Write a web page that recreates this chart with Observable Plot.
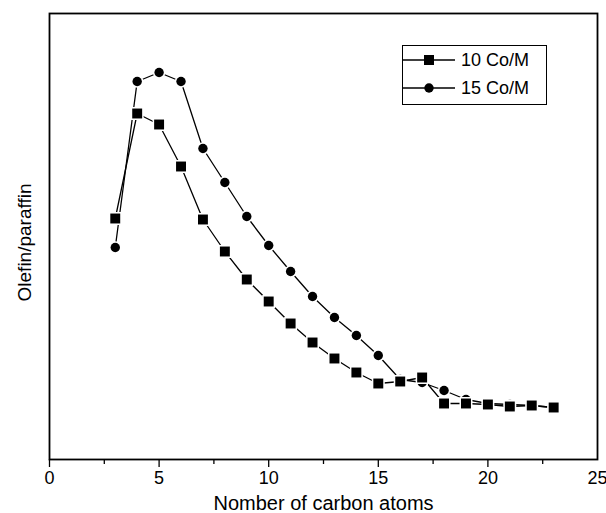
<!DOCTYPE html>
<html>
<head>
<meta charset="utf-8">
<script src="https://cdn.jsdelivr.net/npm/d3@7"></script>
<script src="https://cdn.jsdelivr.net/npm/@observablehq/plot@0.6"></script>
<style>
  html, body { margin: 0; padding: 0; background: #fff; }
  #wrap { position: relative; width: 606px; height: 513px; font-family: "Liberation Sans", Arial, sans-serif; }
  #legend { position: absolute; left: 402px; top: 45px; width: 143px; height: 58px; border: 1.5px solid #000; background: #fff; }
</style>
</head>
<body>
<div id="wrap"></div>
<script>
// Carbon number
const carbon = [3,4,5,6,7,8,9,10,11,12,13,14,15,16,17,18,19,20,21,22,23];
// Olefin/paraffin ratio (arbitrary units)
const co10 = [2.41,3.46,3.35,2.93,2.40,2.08,1.80,1.58,1.36,1.17,1.01,0.87,0.76,0.78,0.82,0.56,0.56,0.55,0.53,0.54,0.52];
const co15 = [2.12,3.78,3.87,3.78,3.11,2.77,2.43,2.14,1.88,1.63,1.42,1.24,1.04,0.80,0.77,0.69,0.60,0.56,0.55,0.54,0.52];
const seriesNames = ["10 Co/M", "15 Co/M"];
const majorTicks = [0,5,10,15,20];
const lastTick = [25];
const minorTicks = [2.5,7.5,12.5,17.5,22.5];

const rows10 = carbon.map((c,i) => ({c, v: co10[i], s: seriesNames[0]}));
const rows15 = carbon.map((c,i) => ({c, v: co15[i], s: seriesNames[1]}));

const chart = Plot.plot({
  width: 606,
  height: 513,
  marginLeft: 49,
  marginRight: 9,
  marginTop: 13,
  marginBottom: 54,
  style: {fontFamily: "Liberation Sans, Arial, sans-serif", color: "#000", background: "#fff"},
  x: {domain: [0, 25], axis: null},
  y: {domain: [0, 4.46], axis: null},
  marks: [
    Plot.frame({stroke: "#000", strokeWidth: 1.8}),
    Plot.axisX({ticks: majorTicks, tickSize: 8, tickPadding: 4, fontSize: 18, label: null, tickFormat: d => d, strokeWidth: 1.3}),
    Plot.axisX({ticks: lastTick, tickSize: 8, tickPadding: 4, fontSize: 18, label: null, tickFormat: d => d, strokeWidth: 1.3, textAnchor: "end", dx: 10}),
    Plot.axisX({ticks: minorTicks, tickSize: 5, label: null, tickFormat: () => "", strokeWidth: 1.3}),
    Plot.text(["Nomber of carbon atoms"], {frameAnchor: "bottom", text: d => d, dy: 50, fontSize: 20, lineAnchor: "bottom"}),
    Plot.text(["Olefin/paraffin"], {frameAnchor: "left", textAnchor: "middle", text: d => d, rotate: -90, dx: -25, dy: 6, fontSize: 19}),
    Plot.line(rows15, {x: "c", y: "v", stroke: "#000", strokeWidth: 1.3}),
    Plot.line(rows10, {x: "c", y: "v", stroke: "#000", strokeWidth: 1.3}),
    Plot.dot(rows15, {x: "c", y: "v", symbol: "circle", r: 4.7, fill: "#000", stroke: "#fff", strokeWidth: 3, paintOrder: "stroke"}),
    Plot.dot(rows10, {x: "c", y: "v", symbol: "square", r: 5.6, fill: "#000", stroke: "#fff", strokeWidth: 3, paintOrder: "stroke"})
  ]
});

const wrap = document.getElementById("wrap");
wrap.appendChild(chart);

// Legend (inside plot area, top right)
const legend = document.createElement("div");
legend.id = "legend";
const symbols = ["square", "circle"];
legend.innerHTML = seriesNames.map((name, i) => `
  <div style="position:absolute; left:0; top:${i * 28 + 1}px; height:26px; display:flex; align-items:center;">
    <svg width="54" height="26" style="display:block">
      <line x1="0" x2="52" y1="13" y2="13" stroke="#000" stroke-width="1.3"/>
      ${symbols[i] === "square"
        ? '<rect x="21" y="8" width="10" height="10" fill="#000"/>'
        : '<circle cx="26" cy="13" r="4.7" fill="#000"/>'}
    </svg>
    <span style="margin-left:4px; font-size:18px; color:#000;">${name}</span>
  </div>`).join("");
wrap.appendChild(legend);
</script>
</body>
</html>
